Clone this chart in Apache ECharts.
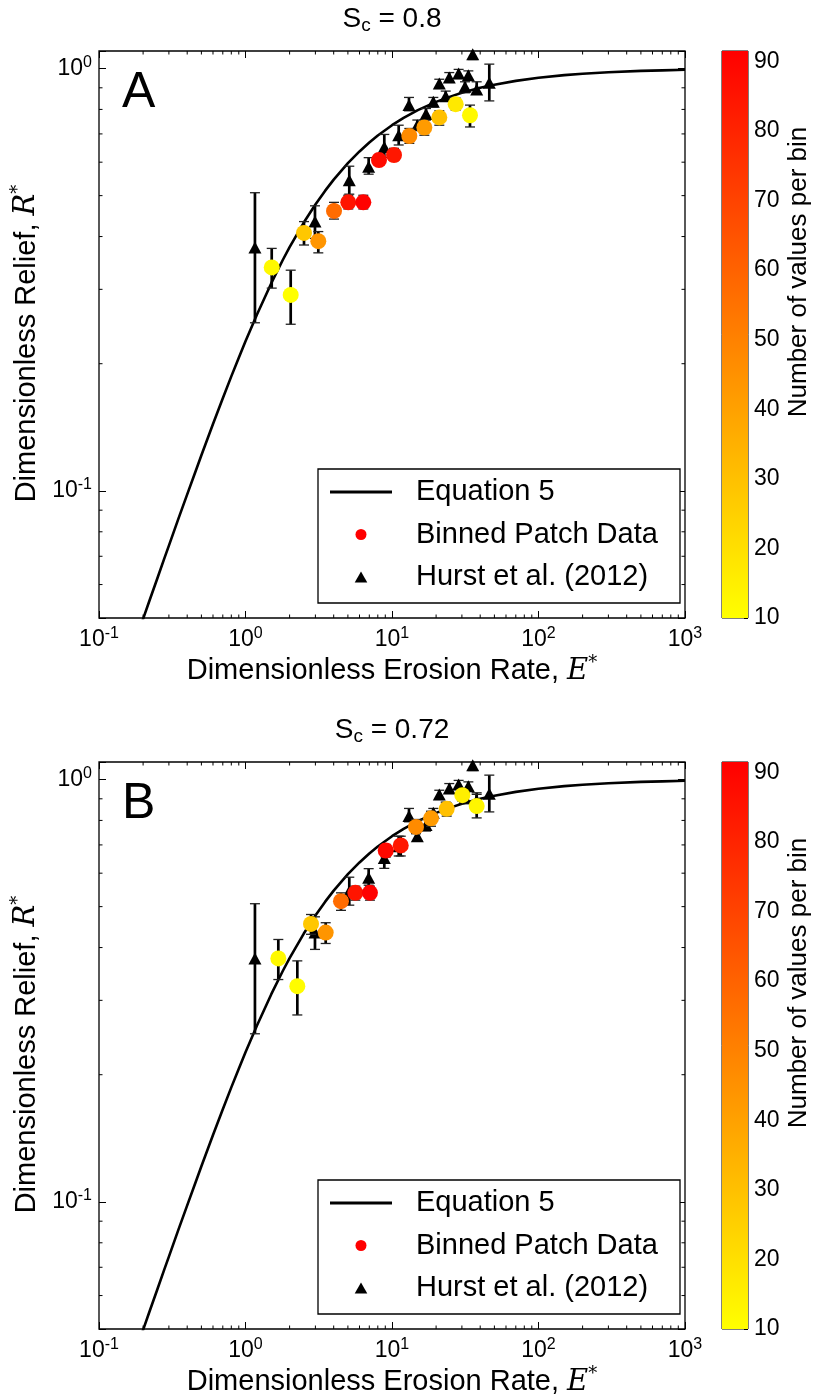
<!DOCTYPE html>
<html><head><meta charset="utf-8">
<script src="https://cdn.jsdelivr.net/npm/echarts@6/dist/echarts.min.js"></script>
<style>html,body{margin:0;padding:0;background:#fff}#c{width:813px;height:1398px}</style>
</head><body><div id="c"></div>
<script>
// ---- Equation 5 curve ----
const curveE = [0.19,0.2,0.22,0.25,0.28,0.3,0.35,0.4,0.45,0.5,0.6,0.7,0.8,0.9,1,1.2,1.5,1.8,2,2.5,3,3.5,4,5,6,7,8,10,12,15,20,25,30,40,50,70,100,150,200,300,500,700,1000];
const curveR = [0.0473,0.04975,0.0547,0.0620,0.0694,0.07418,0.0863,0.0981,0.1098,0.12139,0.14394,0.16571,0.18665,0.2067,0.22599,0.26199,0.31021,0.3525,0.37743,0.43176,0.47645,0.5138,0.54562,0.59681,0.6362,0.66799,0.6938,0.73406,0.7641,0.79678,0.83362,0.8578,0.87584,0.9002,0.91542,0.93482,0.95083,0.96453,0.97196,0.97996,0.98696,0.98977,0.99278];

// ---- Hurst et al. (2012) (same in both panels) ----
const hurstE  = [1.16,2.98,5.11,6.93,8.86,11.11,13.06,14.89,17.07,19.14,21.03,23.26,24.6,28.5,31.5,33.2,35.56,37.85,46.15];
const hurstR  = [0.377,0.434,0.544,0.585,0.652,0.695,0.819,0.734,0.780,0.834,0.922,0.860,0.952,0.973,0.905,0.964,1.081,0.892,0.925];
const hurstLo = [0.250,0.396,0.504,0.562,0.616,0.659,0.794,0.715,0.755,0.811,0.897,0.837,0.927,0.947,0.876,0.942,1.050,0.873,0.838];
const hurstHi = [0.508,0.473,0.587,0.615,0.698,0.734,0.854,0.755,0.804,0.854,0.943,0.884,0.978,0.995,0.930,0.987,1.110,0.930,1.024];

// ---- Panel A binned patch data (Sc = 0.8) ----
const binAE  = [1.51,2.035,2.508,3.14,4.02,5.03,6.37,8.15,10.32,13.13,16.62,21.03,27.2,34.07];
const binAR  = [0.338,0.291,0.408,0.390,0.460,0.482,0.482,0.607,0.624,0.692,0.725,0.766,0.823,0.775];
const binALo = [0.302,0.248,0.382,0.366,0.440,0.465,0.465,0.590,0.605,0.665,0.695,0.734,0.797,0.727];
const binAHi = [0.375,0.333,0.434,0.411,0.482,0.501,0.501,0.626,0.647,0.721,0.755,0.794,0.851,0.819];
const binAN  = [12,10,28,44,57,85,91,88,84,47,42,30,17,12];

// ---- Panel B binned patch data (Sc = 0.72) ----
const binBE  = [1.675,2.258,2.80,3.527,4.485,5.62,7.07,9.06,11.47,14.58,18.46,23.63,30.2,37.85];
const binBR  = [0.377,0.324,0.455,0.434,0.515,0.539,0.539,0.679,0.698,0.772,0.809,0.852,0.918,0.865];
const binBLo = [0.336,0.277,0.430,0.409,0.490,0.518,0.518,0.655,0.659,0.744,0.775,0.819,0.889,0.811];
const binBHi = [0.418,0.372,0.479,0.458,0.539,0.559,0.559,0.702,0.734,0.804,0.841,0.880,0.947,0.922];
const binBN  = [12,11,28,44,57,85,91,89,84,47,42,30,15,13];

// ---- axes / ticks ----
const xRange = [0.1, 1000];
const yRange = [0.05, 1.1];
const xMinorTicks = [0.2,0.3,0.4,0.5,0.6,0.7,0.8,0.9,2,3,4,5,6,7,8,9,20,30,40,50,60,70,80,90,200,300,400,500,600,700,800,900];
const yMinorTicks = [0.06,0.07,0.08,0.09,0.2,0.3,0.4,0.5,0.6,0.7,0.8,0.9];
const cbRange = [10, 91.5];
const cbTickStep = 10;
const titles = ['0.8', '0.72'];
const letters = ['A', 'B'];

const FONT = "'Liberation Sans', Arial, Helvetica, sans-serif";
const chart = echarts.init(document.getElementById('c'), null, {renderer: 'canvas'});

const plotLeft = 99, plotW = 586, plotH = 567, cbLeft = 722, cbW = 30;
const panelTops = [51, 762];
const panelData = [
  {E: binAE, R: binAR, lo: binALo, hi: binAHi, N: binAN},
  {E: binBE, R: binBR, lo: binBLo, hi: binBHi, N: binBN}
];

function powLabel(v) {
  const e = Math.log10(v);
  const r = Math.round(e);
  if (Math.abs(e - r) > 1e-6) return '';
  return '{b|10}{s|' + r + '}';
}
const tickRich = {
  b: {fontSize: 23, fontFamily: FONT, color: '#000', lineHeight: 28},
  s: {fontSize: 16, fontFamily: FONT, color: '#000', verticalAlign: 'top', lineHeight: 16}
};
const nameRich = {
  t: {fontSize: 29, fontFamily: FONT, color: '#000', lineHeight: 34},
  i: {fontSize: 29, fontFamily: "'DejaVu Serif', 'Liberation Serif', serif", fontStyle: 'italic', color: '#000', lineHeight: 34},
  s: {fontSize: 18, fontFamily: "'DejaVu Serif', serif", color: '#000', verticalAlign: 'top', lineHeight: 18}
};

function errRender(params, api) {
  const x = api.value(0), lo = api.value(1), hi = api.value(2);
  const p1 = api.coord([x, hi]), p2 = api.coord([x, lo]);
  const cw = 5;
  return {type: 'group', children: [
    {type: 'line', shape: {x1: p1[0], y1: p1[1], x2: p2[0], y2: p2[1]}, style: {stroke: '#000', lineWidth: 2.7}},
    {type: 'line', shape: {x1: p1[0] - cw, y1: p1[1], x2: p1[0] + cw, y2: p1[1]}, style: {stroke: '#222', lineWidth: 1.3}},
    {type: 'line', shape: {x1: p2[0] - cw, y1: p2[1], x2: p2[0] + cw, y2: p2[1]}, style: {stroke: '#222', lineWidth: 1.3}}
  ]};
}
function xMinorRender(params, api) {
  const cs = params.coordSys;
  const px = api.coord([api.value(0), 1])[0];
  const L = 3.5, b = cs.y + cs.height, t = cs.y;
  return {type: 'group', children: [
    {type: 'line', shape: {x1: px, y1: b, x2: px, y2: b - L}, style: {stroke: '#000', lineWidth: 1}},
    {type: 'line', shape: {x1: px, y1: t, x2: px, y2: t + L}, style: {stroke: '#000', lineWidth: 1}}
  ]};
}
function yMinorRender(params, api) {
  const cs = params.coordSys;
  const py = api.coord([1, api.value(1)])[1];
  const L = 3.5, l = cs.x, r = cs.x + cs.width;
  return {type: 'group', children: [
    {type: 'line', shape: {x1: l, y1: py, x2: l + L, y2: py}, style: {stroke: '#000', lineWidth: 1}},
    {type: 'line', shape: {x1: r, y1: py, x2: r - L, y2: py}, style: {stroke: '#000', lineWidth: 1}}
  ]};
}

const grid = [], xAxis = [], yAxis = [], series = [], title = [], legend = [];
const binSeriesIdx = [];

panelTops.forEach(top => grid.push({left: plotLeft, top: top, width: plotW, height: plotH, show: true, borderColor: '#000', borderWidth: 1.3, backgroundColor: 'rgba(0,0,0,0)'}));
panelTops.forEach(top => grid.push({left: cbLeft, top: top, width: cbW, height: plotH, show: true, borderColor: '#000', borderWidth: 1, backgroundColor: 'rgba(0,0,0,0)'}));

const majorTick = {show: true, inside: true, length: 7, lineStyle: {color: '#000', width: 1}};

panelTops.forEach((top, i) => {
  xAxis.push({
    gridIndex: i, type: 'log', logBase: 10, min: xRange[0], max: xRange[1], position: 'bottom',
    axisLine: {show: false}, axisTick: majorTick, splitLine: {show: false},
    axisLabel: {formatter: powLabel, margin: 8, rich: tickRich},
    name: '{t|Dimensionless Erosion Rate, }{i|E}{s|*}', nameLocation: 'middle', nameGap: 36,
    nameTextStyle: {rich: nameRich}
  });
  xAxis.push({
    gridIndex: i, type: 'log', logBase: 10, min: xRange[0], max: xRange[1], position: 'top',
    axisLine: {show: false}, axisTick: majorTick, axisLabel: {show: false}, splitLine: {show: false}
  });
  yAxis.push({
    gridIndex: i, type: 'log', logBase: 10, min: yRange[0], max: yRange[1], position: 'left',
    axisLine: {show: false}, axisTick: majorTick, splitLine: {show: false},
    axisLabel: {formatter: powLabel, margin: 7, rich: tickRich},
    name: '{t|Dimensionless Relief, }{i|R}{s|*}', nameLocation: 'middle', nameGap: 52, nameRotate: 90,
    nameTextStyle: {rich: nameRich, padding: [0, 18, 0, 0]}
  });
  yAxis.push({
    gridIndex: i, type: 'log', logBase: 10, min: yRange[0], max: yRange[1], position: 'right',
    axisLine: {show: false}, axisTick: majorTick, axisLabel: {show: false}, splitLine: {show: false}
  });
});
panelTops.forEach((top, i) => {
  xAxis.push({gridIndex: 2 + i, type: 'category', data: ['cb'], show: false});
  yAxis.push({
    gridIndex: 2 + i, type: 'value', min: cbRange[0], max: cbRange[1], interval: cbTickStep, position: 'right',
    axisLine: {show: false}, splitLine: {show: false},
    axisTick: {show: true, inside: true, length: 4, lineStyle: {color: '#000', width: 1}},
    axisLabel: {margin: 6, fontSize: 23, fontFamily: FONT, color: '#000', formatter: v => (Math.abs(v % cbTickStep) < 1e-9 ? String(v) : '')},
    name: 'Number of values per bin', nameLocation: 'middle', nameRotate: 90, nameGap: 38,
    nameTextStyle: {fontSize: 26, fontFamily: FONT, color: '#000', padding: [0, 0, 0, 125]}
  });
});

panelTops.forEach((top, i) => {
  const xa = 2 * i, ya = 2 * i;
  const d = panelData[i];
  series.push({type: 'custom', xAxisIndex: xa, yAxisIndex: ya, renderItem: xMinorRender, data: xMinorTicks.map(v => [v, 1]), silent: true, z: 1, clip: false});
  series.push({type: 'custom', xAxisIndex: xa, yAxisIndex: ya, renderItem: yMinorRender, data: yMinorTicks.map(v => [1, v]), silent: true, z: 1, clip: false});
  series.push({
    name: 'Equation 5', type: 'line', xAxisIndex: xa, yAxisIndex: ya,
    data: curveE.map((e, k) => [e, curveR[k]]), showSymbol: false, symbol: 'none',
    smooth: false, clip: true,
    lineStyle: {color: '#000', width: 2.6}, itemStyle: {color: '#000'}, z: 2
  });
  series.push({type: 'custom', xAxisIndex: xa, yAxisIndex: ya, renderItem: errRender, clip: true,
    data: hurstE.map((e, k) => [e, hurstLo[k], hurstHi[k]]), z: 3, silent: true});
  series.push({
    name: 'Hurst et al. (2012)', type: 'scatter', xAxisIndex: xa, yAxisIndex: ya,
    data: hurstE.map((e, k) => [e, hurstR[k]]), symbol: 'triangle', symbolSize: [13, 12],
    itemStyle: {color: '#000', opacity: 1}, z: 4, clip: true
  });
  series.push({type: 'custom', xAxisIndex: xa, yAxisIndex: ya, renderItem: errRender, clip: true,
    data: d.E.map((e, k) => [e, d.lo[k], d.hi[k]]), z: 5, silent: true});
  binSeriesIdx.push(series.length);
  series.push({
    name: 'Binned Patch Data', type: 'scatter', xAxisIndex: xa, yAxisIndex: ya,
    data: d.E.map((e, k) => [e, d.R[k], d.N[k]]), symbol: 'circle', symbolSize: 16,
    itemStyle: {color: '#ff0000', opacity: 1}, z: 6, clip: true
  });
  // colorbar
  series.push({type: 'bar', xAxisIndex: 4 + i, yAxisIndex: 4 + i, stack: 'cb' + i, barWidth: '100%', silent: true,
    data: [cbRange[0]], itemStyle: {color: 'rgba(0,0,0,0)'}});
  series.push({type: 'bar', xAxisIndex: 4 + i, yAxisIndex: 4 + i, stack: 'cb' + i, barWidth: '100%', silent: true,
    data: [cbRange[1] - cbRange[0]],
    itemStyle: {color: {type: 'linear', x: 0, y: 1, x2: 0, y2: 0, colorStops: [{offset: 0, color: '#ffff00'}, {offset: 1, color: '#ff0000'}]}}});

  title.push({
    text: '{s|S}{c|c}{s| = ' + titles[i] + '}', left: 392, top: top - 48, textAlign: 'center', padding: 0,
    textStyle: {fontWeight: 'normal', rich: {
      s: {fontSize: 28, fontFamily: FONT, fontWeight: 'normal', color: '#000', lineHeight: 32},
      c: {fontSize: 19, fontFamily: FONT, fontWeight: 'normal', color: '#000', verticalAlign: 'bottom', lineHeight: 12}
    }}
  });
  title.push({
    text: letters[i], left: 122, top: top + 17, padding: 0,
    textStyle: {fontSize: 50, fontFamily: FONT, fontWeight: 'normal', color: '#000', lineHeight: 50}
  });
  legend.push({
    orient: 'vertical', left: 318, top: top + 418,
    padding: [8, 8, 11, 12], itemGap: 12.5, itemWidth: 62, itemHeight: 11,
    borderColor: '#000', borderWidth: 1.3, backgroundColor: '#fff', borderRadius: 0,
    selectedMode: false, symbolKeepAspect: true,
    textStyle: {fontSize: 29, fontFamily: FONT, color: '#000', lineHeight: 30, padding: [0, 0, 0, 19], width: 256},
    data: [
      {name: 'Equation 5', icon: 'path://M0,0H62V3H0Z', itemStyle: {color: '#000', borderWidth: 0}},
      {name: 'Binned Patch Data', icon: 'circle', itemStyle: {color: '#ff0000', borderWidth: 0}},
      {name: 'Hurst et al. (2012)', icon: 'path://M6,0L12,10.5L0,10.5Z', itemStyle: {color: '#000', borderWidth: 0}}
    ]
  });
});

chart.setOption({
  animation: false,
  backgroundColor: '#fff',
  textStyle: {fontFamily: FONT},
  title: title,
  legend: legend,
  grid: grid,
  xAxis: xAxis,
  yAxis: yAxis,
  visualMap: {show: false, type: 'continuous', min: cbRange[0], max: cbRange[1], dimension: 2,
    seriesIndex: binSeriesIdx, inRange: {color: ['#ffff00', '#ff0000']}},
  series: series
});
</script>
</body></html>
